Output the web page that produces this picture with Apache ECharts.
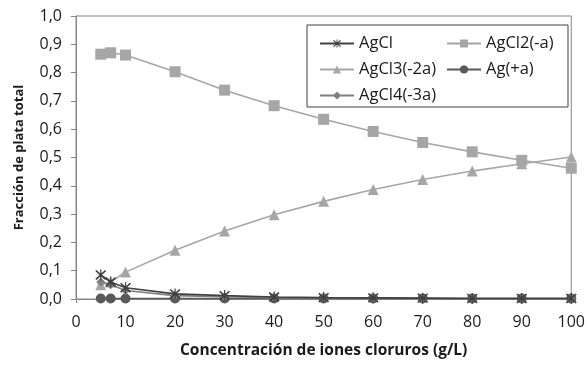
<!DOCTYPE html>
<html>
<head>
<meta charset="utf-8">
<script src="https://cdn.jsdelivr.net/npm/echarts@6/dist/echarts.min.js"></script>
<style>html,body{margin:0;padding:0;background:#fff}#c{width:588px;height:367px}</style>
</head>
<body>
<div id="c"></div>
<script>
// Chloride concentration (g/L)
const conc = [5, 7, 10, 20, 30, 40, 50, 60, 70, 80, 90, 100];
// Fraction of total silver per species
const agcl   = [0.085, 0.060, 0.040, 0.018, 0.012, 0.007, 0.005, 0.004, 0.003, 0.002, 0.002, 0.002];
const agcl2  = [0.865, 0.870, 0.862, 0.803, 0.738, 0.683, 0.635, 0.592, 0.553, 0.520, 0.490, 0.462];
const agcl3  = [0.050, 0.060, 0.095, 0.172, 0.240, 0.298, 0.345, 0.387, 0.422, 0.452, 0.478, 0.502];
const agplus = [0.002, 0.002, 0.002, 0.002, 0.002, 0.002, 0.002, 0.002, 0.002, 0.002, 0.002, 0.002];
const agcl4  = [0.060, 0.050, 0.030, 0.012, 0.008, 0.005, 0.004, 0.003, 0.002, 0.002, 0.002, 0.002];
const names = ['AgCl', 'AgCl2(-a)', 'AgCl3(-2a)', 'Ag(+a)', 'AgCl4(-3a)'];

const pair = arr => conc.map((x, i) => [x, arr[i]]);
const star = 'path://M-9,-7 L-7,-9 L9,7 L7,9 Z M7,-9 L9,-7 L-7,9 L-9,7 Z M-1,-10 L1,-10 L1,10 L-1,10 Z';
const font = '"Open Sans", "Liberation Sans", sans-serif';

function line(name, data, color, symbol, size, z) {
  return {
    name, type: 'line', data: pair(data), z,
    symbol, symbolSize: size,
    lineStyle: { color, width: 1.6 },
    itemStyle: { color },
    emphasis: { disabled: true }
  };
}

const legendText = { fontSize: 16.5, color: '#1a1a1a', fontFamily: font };

const chart = echarts.init(document.getElementById('c'));
chart.setOption({
  animation: false,
  textStyle: { fontFamily: font },
  grid: { left: 76, right: 16, top: 16, bottom: 68, show: true, borderColor: '#868686', borderWidth: 1 },
  xAxis: {
    type: 'value', min: 0, max: 100, interval: 10,
    name: 'Concentración de iones cloruros (g/L)', nameLocation: 'middle', nameGap: 44,
    nameTextStyle: { fontWeight: 'bold', fontSize: 15.5, color: '#1a1a1a', fontFamily: font },
    axisLine: { lineStyle: { color: '#868686' } },
    axisTick: { show: true, length: 4, lineStyle: { color: '#868686' } },
    axisLabel: { fontSize: 16, color: '#1a1a1a', margin: 15 },
    splitLine: { show: false }
  },
  yAxis: {
    type: 'value', min: 0, max: 1, interval: 0.1,
    name: 'Fracción de plata total', nameLocation: 'middle', nameGap: 50,
    nameTextStyle: { fontWeight: 'bold', fontSize: 13, color: '#1a1a1a', fontFamily: font },
    axisLine: { show: true, lineStyle: { color: '#868686' } },
    axisTick: { show: true, length: 5, lineStyle: { color: '#868686' } },
    axisLabel: { fontSize: 16, color: '#1a1a1a', margin: 14,
      formatter: v => v.toFixed(1).replace('.', ',') },
    splitLine: { show: false }
  },
  graphic: [{
    type: 'rect', shape: { x: 307, y: 25, width: 261, height: 82 },
    style: { fill: '#fff', stroke: '#404040', lineWidth: 1 }, z: 10
  }],
  legend: [
    {
      data: [names[0], names[2], names[4]], orient: 'vertical',
      left: 314, top: 30, itemWidth: 34, itemHeight: 10, itemGap: 9,
      textStyle: legendText, z: 20
    },
    {
      data: [names[1], names[3]], orient: 'vertical',
      left: 441, top: 30, itemWidth: 34, itemHeight: 10, itemGap: 9,
      textStyle: legendText, z: 20
    }
  ],
  series: [
    line(names[0], agcl, '#404040', star, 11, 5),
    line(names[1], agcl2, '#a6a6a6', 'rect', 11, 3),
    line(names[2], agcl3, '#a6a6a6', 'triangle', 11, 3),
    line(names[3], agplus, '#595959', 'circle', 10, 4),
    line(names[4], agcl4, '#7f7f7f', 'diamond', 9, 4)
  ]
});
</script>
</body>
</html>
